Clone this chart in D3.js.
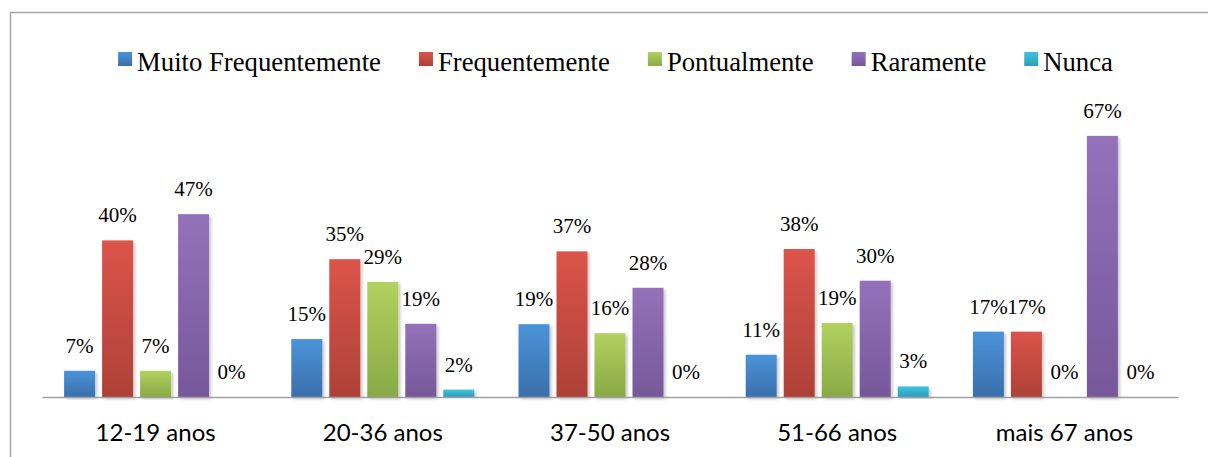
<!DOCTYPE html>
<html><head><meta charset="utf-8">
<script src="https://cdn.jsdelivr.net/npm/d3@7"></script>
<style>
html,body{margin:0;padding:0;background:#fff;overflow:hidden}
.serif{font-family:"Liberation Serif","Times New Roman",Times,serif}
.sans{font-family:Lato,"Open Sans",sans-serif}
</style>
</head><body>
<svg id="chart" width="1208" height="457"></svg>
<script>
const categories = ["12-19 anos", "20-36 anos", "37-50 anos", "51-66 anos", "mais 67 anos"];
const seriesNames = ["Muito Frequentemente", "Frequentemente", "Pontualmente", "Raramente", "Nunca"];
const muitoFrequentemente = [6.7, 14.8, 18.6, 10.8, 16.7];
const frequentemente      = [40.0, 35.2, 37.2, 37.8, 16.7];
const pontualmente        = [6.7, 29.4, 16.3, 18.9, 0];
const raramente           = [46.7, 18.7, 27.9, 29.7, 66.7];
const nunca               = [0, 1.9, 0, 2.7, 0];
const seriesValues = [muitoFrequentemente, frequentemente, pontualmente, raramente, nunca];
const colorsTop    = ["#4b93d9", "#dc544a", "#b1d25f", "#9472ba", "#40c2de"];
const colorsBottom = ["#3a6fab", "#ad4137", "#89a946", "#76589a", "#2c9fbb"];

const svg = d3.select("#chart");
const defs = svg.append("defs");
seriesNames.forEach((s, i) => {
  const g = defs.append("linearGradient").attr("id", "grad" + i)
    .attr("x1", 0).attr("y1", 0).attr("x2", 0).attr("y2", 1);
  g.append("stop").attr("offset", "0%").attr("stop-color", colorsTop[i]);
  g.append("stop").attr("offset", "100%").attr("stop-color", colorsBottom[i]);
});
const f = defs.append("filter").attr("id", "shadow").attr("x", "-20%").attr("y", "-5%").attr("width", "150%").attr("height", "115%");
f.append("feDropShadow").attr("dx", 2).attr("dy", 2).attr("stdDeviation", 1.6)
  .attr("flood-color", "#000").attr("flood-opacity", 0.22);

// frame
svg.append("rect").attr("x", 10.5).attr("y", 12.5).attr("width", 1240).attr("height", 500)
  .attr("fill", "none").attr("stroke", "#a6a6a6").attr("stroke-width", 1.5);

const x0 = d3.scaleBand().domain(categories).range([42, 1178]).paddingInner(0).paddingOuter(0);
const x1 = d3.scaleBand().domain(seriesNames).range([-95, 95]).paddingInner(7/38).paddingOuter(3.5/38);
const y = d3.scaleLinear().domain([0, 70]).range([397, 397 - 70 * 3.915]);

const groups = svg.append("g").selectAll("g").data(categories).join("g")
  .attr("transform", d => `translate(${x0(d) + x0.bandwidth() / 2},0)`);

groups.each(function(cat, ci) {
  const g = d3.select(this);
  const data = seriesNames.map((s, si) => ({ s, si, v: seriesValues[si][ci] }));
  g.selectAll("rect").data(data.filter(d => d.v > 0)).join("rect")
    .attr("x", d => x1(d.s))
    .attr("y", d => y(d.v))
    .attr("width", x1.bandwidth())
    .attr("height", d => y(0) - y(d.v))
    .attr("fill", d => `url(#grad${d.si})`)
    .attr("filter", "url(#shadow)");
  g.selectAll("text").data(data).join("text")
    .attr("class", "serif")
    .attr("x", d => x1(d.s) + x1.bandwidth() / 2)
    .attr("y", d => y(d.v) - 18)
    .attr("text-anchor", "middle")
    .attr("font-size", 21)
    .attr("fill", "#000")
    .text(d => Math.round(d.v) + "%");
});

// axis
const axis = svg.append("g").attr("transform", "translate(0,397)")
  .call(d3.axisBottom(x0).tickSize(0).tickSizeOuter(0).tickPadding(27));
axis.attr("font-family", null).attr("font-size", null);
axis.select(".domain").attr("stroke", "#a0a0a0").attr("stroke-width", 1.5);
axis.selectAll("text").attr("class", "sans").attr("font-size", 24).attr("fill", "#000");

// legend
const legend = svg.append("g");
const items = legend.selectAll("g").data(seriesNames).join("g");
items.append("rect").attr("width", 14).attr("height", 14).attr("y", 52)
  .attr("fill", (d, i) => `url(#grad${i})`);
items.append("text").attr("class", "serif").attr("x", 19).attr("y", 71)
  .attr("font-size", 26.7).attr("fill", "#000").text(d => d);
const widths = [];
items.each(function() {
  const w = d3.select(this).select("text").node().getComputedTextLength();
  widths.push(19 + w);
});
const gap = 38;
const total = d3.sum(widths) + gap * (widths.length - 1);
let start = 615.5 - total / 2;
items.attr("transform", (d, i) => {
  const t = `translate(${start},0)`;
  start += widths[i] + gap;
  return t;
});
</script>
</body></html>
